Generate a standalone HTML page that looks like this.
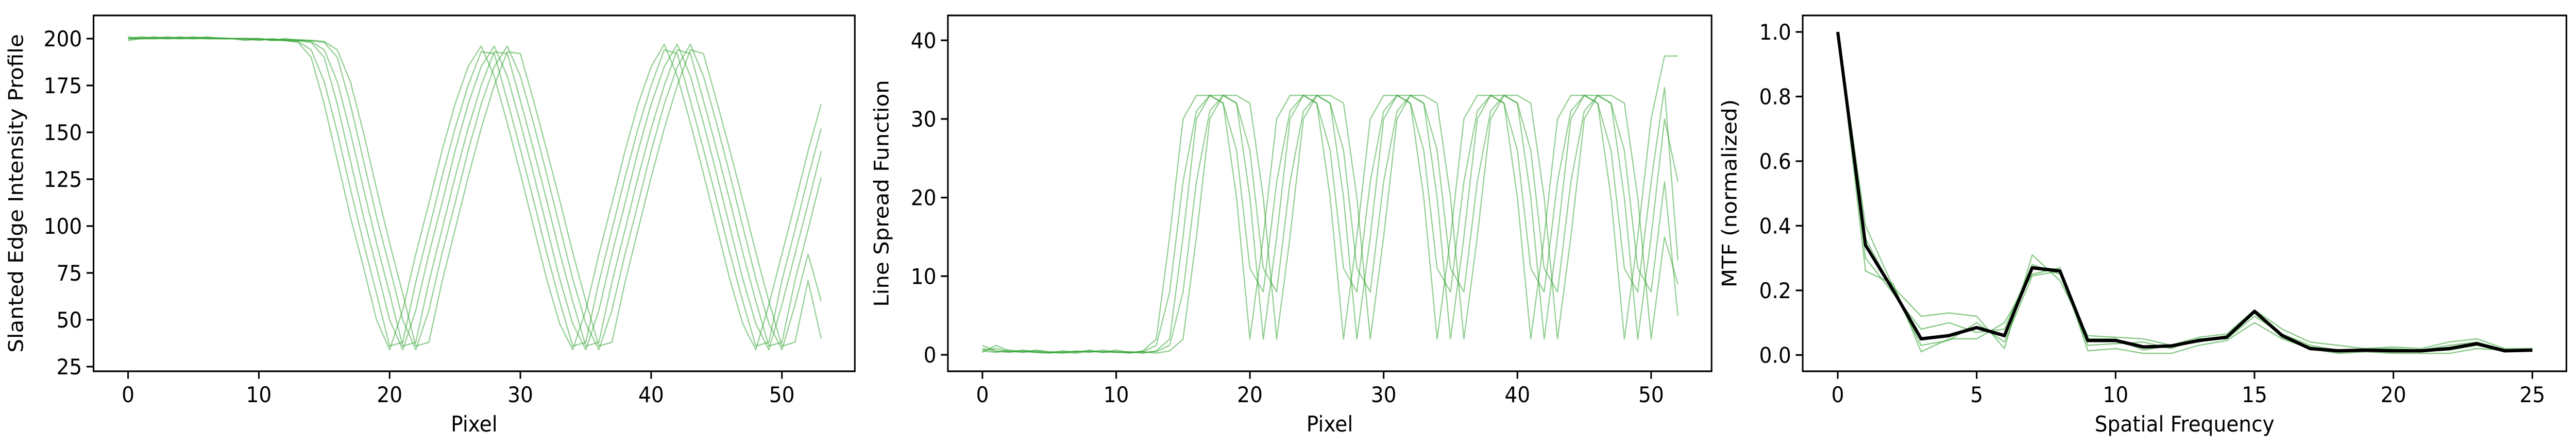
<!DOCTYPE html>
<html><head><meta charset="utf-8">
<style>
html,body{margin:0;padding:0;background:#fff;width:100%;height:100%;overflow:hidden;}
svg{display:block;position:fixed;left:0;top:0;width:100vw;height:100vh;font-family:"DejaVu Sans","Liberation Sans",sans-serif;}
</style></head>
<body>
<svg id="fig" viewBox="0 0 5370 870" preserveAspectRatio="none" xmlns="http://www.w3.org/2000/svg"></svg>
<script>
// ---- Panel 1 data: slanted edge intensity profiles ----
const esfC0 = [200,201,200,200,201,200,200,200,200,199,200,199,199,198,190,165,135,105,78,50,34,55,85,112,140,165,185,196,180,155,128,100,72,48,34,55,85,112,140,165,185,197,180,155,128,100,72,48,34,58,85,112,140,165];
const esfC05 = [200,200.5,200.5,200,200.5,200.5,200,200,200,199.5,199.5,199.5,199,198.5,194,177,150,120,91,64,36,38,70,98,126,152,175,193,192,167,141,114,86,60,36,38,70,98,126,152,175,194,192,167,141,114,86,60,36,38,71,98,126,152];
const esfC1 = [200,200,201,200,200,201,200,200,200,200,199,200,199,199,198,190,165,135,105,78,50,34,55,85,112,140,165,185,196,180,155,128,100,72,48,34,55,85,112,140,165,185,197,180,155,128,100,72,48,34,58,85,112,140];
const esfC15 = [200,200,200.5,200.5,200,200.5,200.5,200,200,200,199.5,199.5,199.5,199,198.5,194,177,150,120,91,64,36,38,70,98,126,152,175,193,192,167,141,114,86,60,36,38,70,98,126,152,175,194,192,167,141,114,86,60,36,38,71,98,126];
const esfC2 = [199,200,200,201,200,200,201,200,200,200,200,199,200,199,199,198,190,165,135,105,78,50,34,55,85,112,140,165,185,196,180,155,128,100,72,48,34,55,85,112,140,165,185,197,180,155,128,100,72,48,34,58,85,60];
const esfC25 = [201,200,200,200.5,200.5,200,200.5,200.5,200,200,200,199.5,199.5,199.5,199,198.5,194,177,150,120,91,64,36,38,70,98,126,152,175,193,192,167,141,114,86,60,36,38,70,98,126,152,175,194,192,167,141,114,86,60,36,38,71,40];
const esfYTicks = [25,50,75,100,125,150,175,200];
const esfXTicks = [0,10,20,30,40,50];

// ---- Panel 2 data: line spread functions ----
const lsfL0 = [0.5,0.3,0.6,0.4,0.3,0.2,0.5,0.3,0.6,0.3,0.4,0.2,0.5,2,15,30,33,33,32,20,2,15,30,33,33,32,20,2,15,30,33,33,32,20,2,15,30,33,33,32,20,2,15,30,33,33,32,20,2,15,30,38,38];
const lsfL05 = [0.8,0.4,0.4,0.5,0.3,0.3,0.4,0.4,0.4,0.4,0.3,0.3,0.4,1.2,8,22,31,33,32,26,11,8,22,31,33,32,26,11,8,22,31,33,32,26,11,8,22,31,33,32,26,11,8,22,31,33,32,26,11,8,22,34,12];
const lsfL1 = [1.2,0.5,0.3,0.6,0.4,0.3,0.2,0.5,0.3,0.6,0.3,0.4,0.2,0.5,2,15,30,33,33,32,20,2,15,30,33,33,32,20,2,15,30,33,33,32,20,2,15,30,33,33,32,20,2,15,30,33,33,32,20,2,15,30,22];
const lsfL15 = [0.6,0.8,0.4,0.4,0.5,0.3,0.3,0.4,0.4,0.4,0.4,0.3,0.3,0.4,1.2,8,22,31,33,32,26,11,8,22,31,33,32,26,11,8,22,31,33,32,26,11,8,22,31,33,32,26,11,8,22,31,33,32,26,11,8,22,5];
const lsfL2 = [0.3,1.2,0.5,0.3,0.6,0.4,0.3,0.2,0.5,0.3,0.6,0.3,0.4,0.2,0.5,2,15,30,33,33,32,20,2,15,30,33,33,32,20,2,15,30,33,33,32,20,2,15,30,33,33,32,20,2,15,30,33,33,32,20,2,15,9];
const lsfYTicks = [0,10,20,30,40];
const lsfXTicks = [0,10,20,30,40,50];

// ---- Panel 3 data: MTF ----
const mtfMean = [1.0,0.34,0.2,0.05,0.06,0.085,0.06,0.27,0.26,0.045,0.045,0.025,0.028,0.045,0.055,0.135,0.06,0.02,0.013,0.015,0.013,0.013,0.02,0.035,0.013,0.015];
const mtfG1 = [1,0.40,0.21,0.12,0.13,0.12,0.02,0.31,0.23,0.06,0.055,0.05,0.03,0.055,0.065,0.14,0.08,0.04,0.03,0.02,0.025,0.02,0.04,0.05,0.02,0.02];
const mtfG2 = [1,0.26,0.22,0.01,0.05,0.05,0.10,0.25,0.27,0.013,0.02,0.005,0.005,0.03,0.045,0.10,0.05,0.02,0.005,0.01,0.005,0.005,0.005,0.02,0.015,0.013];
const mtfG3 = [1,0.30,0.19,0.08,0.10,0.07,0.08,0.28,0.25,0.03,0.035,0.04,0.02,0.05,0.05,0.12,0.065,0.03,0.015,0.018,0.02,0.015,0.03,0.04,0.015,0.017];
const mtfG4 = [1,0.36,0.20,0.03,0.045,0.10,0.04,0.245,0.26,0.05,0.05,0.015,0.03,0.04,0.06,0.13,0.055,0.025,0.01,0.012,0.01,0.012,0.015,0.03,0.013,0.016];
const mtfYTicks = [0.0,0.2,0.4,0.6,0.8,1.0];
const mtfXTicks = [0,5,10,15,20,25];

const NS = "http://www.w3.org/2000/svg";
const fig = document.getElementById('fig');
function el(tag, attrs, parent){
  const e = document.createElementNS(NS, tag);
  for (const k in attrs) e.setAttribute(k, attrs[k]);
  (parent||fig).appendChild(e);
  return e;
}
function panel(cfg){
  const g = el('g', {});
  
  
  const sx = v => cfg.px0 + (v - cfg.x0) * (cfg.px1 - cfg.px0) / (cfg.x1 - cfg.x0);
  const sy = v => cfg.py0 + (v - cfg.y0) * (cfg.py1 - cfg.py0) / (cfg.y1 - cfg.y0);
  const defs = el('defs', {}, g);
  const clip = el('clipPath', {id: cfg.name + '-clip'}, defs);
  el('rect', {x: cfg.L, y: cfg.T, width: cfg.R - cfg.L, height: cfg.B - cfg.T}, clip);
  const lines = el('g', {'clip-path': 'url(#' + cfg.name + '-clip)'}, g);
  cfg.series.forEach((s) => {
    const pts = s.data.map((v, i) => sx(i).toFixed(1) + ',' + sy(v).toFixed(1)).join(' ');
    const p = el('polyline', {points: pts, fill: 'none', stroke: s.color, 'stroke-width': s.w, 'stroke-opacity': s.op, 'stroke-linejoin': 'round'}, lines);
    
    
  });
  const frame = el('rect', {x: cfg.L, y: cfg.T, width: cfg.R - cfg.L, height: cfg.B - cfg.T, fill: 'none', stroke: '#000', 'stroke-width': 3.3}, g);
  
  
  cfg.xt.forEach(t => {
    const x = sx(t);
    el('line', {x1: x, x2: x, y1: cfg.B, y2: cfg.B + 14.6, stroke: '#000', 'stroke-width': 3.3}, g);
    const tx = el('text', {x: x, y: cfg.B + 60, 'font-size': 42, 'text-anchor': 'middle'}, g);
    
    
    tx.textContent = t;
  });
  cfg.yt.forEach(t => {
    const y = sy(t);
    el('line', {x1: cfg.L - 14.6, x2: cfg.L, y1: y, y2: y, stroke: '#000', 'stroke-width': 3.3}, g);
    const tx = el('text', {x: cfg.L - 24, y: y + 15, 'font-size': 42, 'text-anchor': 'end'}, g);
    
    
    tx.textContent = cfg.yfmt ? cfg.yfmt(t) : t;
  });
  const xl = el('text', {x: (cfg.L + cfg.R) / 2, y: cfg.B + 117, 'font-size': 42, 'text-anchor': 'middle'}, g);
  
  
  xl.textContent = cfg.xlabel;
  const yc = (cfg.T + cfg.B) / 2;
  const yl = el('text', {x: cfg.ylx, y: yc, 'font-size': 42, 'text-anchor': 'middle', transform: 'rotate(-90 ' + cfg.ylx + ' ' + yc + ')'}, g);
  
  
  yl.textContent = cfg.ylabel;
}
const GREEN = '#2ca02c';
panel({name: 'esf-panel', L: 195, R: 1782, T: 30, B: 721,
  x0: 0, x1: 50, px0: 267, px1: 1630, y0: 25, y1: 200, py0: 712, py1: 75,
  xt: esfXTicks, yt: esfYTicks, xlabel: 'Pixel', ylabel: 'Slanted Edge Intensity Profile', ylx: 48,
  series: [esfC0, esfC05, esfC1, esfC15, esfC2, esfC25].map((d, i) => ({data: d, color: GREEN, w: 2.5, op: 0.5, name: 'esf-line-' + i}))
});
panel({name: 'lsf-panel', L: 1976, R: 3568, T: 30, B: 721,
  x0: 0, x1: 50, px0: 2048, px1: 3442, y0: 0, y1: 40, py0: 689, py1: 78.3,
  xt: lsfXTicks, yt: lsfYTicks, xlabel: 'Pixel', ylabel: 'Line Spread Function', ylx: 1852,
  series: [lsfL0, lsfL05, lsfL1, lsfL15, lsfL2].map((d, i) => ({data: d, color: GREEN, w: 2.5, op: 0.5, name: 'lsf-line-' + i}))
});
panel({name: 'mtf-panel', L: 3758, R: 5350, T: 30, B: 721,
  x0: 0, x1: 25, px0: 3831, px1: 5279, y0: 0, y1: 1, py0: 689.4, py1: 62,
  xt: mtfXTicks, yt: mtfYTicks, xlabel: 'Spatial Frequency', ylabel: 'MTF (normalized)', ylx: 3620,
  yfmt: t => t.toFixed(1),
  series: [mtfG1, mtfG2, mtfG3, mtfG4].map((d, i) => ({data: d, color: GREEN, w: 2.5, op: 0.55, name: 'mtf-line-' + i}))
    .concat([{data: mtfMean, color: '#000', w: 6.5, op: 1, name: 'mtf-mean-line'}])
});
</script>
</body></html>
